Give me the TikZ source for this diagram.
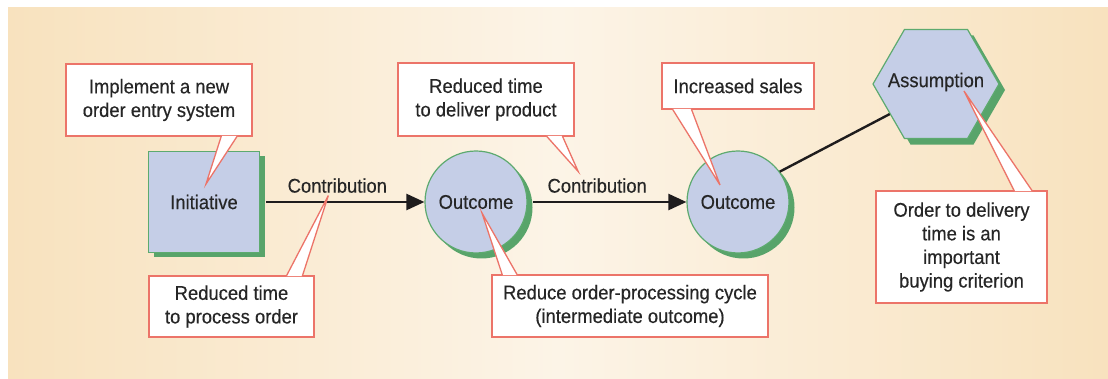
\documentclass[tikz,border=0pt]{standalone}
\usepackage{fontspec}
\setmainfont[FakeStretch=0.93,FakeBold=0.35]{Liberation Sans}
\usetikzlibrary{arrows.meta,shapes.geometric,shadows}
\definecolor{paneledge}{HTML}{F8E2BE}
\definecolor{panelmid}{HTML}{FCF4E7}
\definecolor{shapeblue}{HTML}{C5CEE7}
\definecolor{edgegreen}{HTML}{5DAA6F}
\definecolor{shadowgreen}{HTML}{58A46A}
\definecolor{notered}{HTML}{EC7469}
\definecolor{inkgray}{HTML}{262626}
\definecolor{inkblack}{HTML}{1E1C1D}

\begin{document}
\begin{tikzpicture}[x=1pt,y=-1pt]%
  \tikzstyle{every node}=[font=\fontsize{19.8}{23.6}\selectfont,text=inkgray]
  \tikzstyle{squaren}=[rectangle,draw=edgegreen,fill=shapeblue,line width=1.2pt,inner sep=0,
    minimum width=111pt,minimum height=101pt,
    drop shadow={shadow xshift=5pt,shadow yshift=-5pt,fill=shadowgreen,opacity=1}]
  \tikzstyle{roundn}=[circle,draw=edgegreen,fill=shapeblue,line width=1.2pt,inner sep=0,
    minimum size=102pt,
    drop shadow={shadow xshift=5.5pt,shadow yshift=-5.5pt,fill=shadowgreen,opacity=1}]
  \tikzstyle{hexn}=[regular polygon,regular polygon sides=6,draw=edgegreen,fill=shapeblue,
    line width=1.2pt,inner sep=0,minimum size=126pt,
    drop shadow={shadow xshift=6pt,shadow yshift=-6pt,fill=shadowgreen,opacity=1}]
  \tikzstyle{noten}=[rectangle,draw=notered,fill=white,line width=1.3pt,inner sep=0,align=center]
  \tikzstyle{notetip}=[draw=notered,fill=white,line width=1.3pt]
  \tikzstyle{flow}=[draw=inkblack,line width=2.4pt,-{Triangle[length=18pt,width=16pt]}]
  \tikzstyle{link}=[draw=inkblack,line width=2.4pt]
  \tikzstyle{labn}=[above,inner sep=8pt]
  \useasboundingbox (0,0) rectangle (1108,379);
  % panel
  \shade[left color=paneledge,right color=paneledge,middle color=panelmid] (8,8) rectangle (1108,378);
  % shapes
  \node(init)[squaren] at (204,202) {Initiative};
  \node(out1)[roundn] at (476,202) {Outcome};
  \node(out2)[roundn] at (738,202) {Outcome};
  \node(hex)[hexn,label={[yshift=2pt]center:Assumption}] at (936,84) {};
  % connectors
  \draw[flow] ([xshift=6pt]init.east) -- node(c1)[labn,pos=.45]{Contribution} (out1);
  \draw[flow] ([xshift=5pt]out1.east) -- node(c2)[labn,pos=.42]{Contribution} (out2);
  \draw[link] (out2.36) -- (hex.213);
  % callouts
  \node(imp)[noten,minimum width=186pt,minimum height=72pt] at (159,100) {Implement a new\\order entry system};
  \draw[notetip] ([xshift=156pt,yshift=.7pt]imp.south west) -- ([xshift=2pt,yshift=18pt]init.center)
    -- ([xshift=172pt,yshift=.7pt]imp.south west);
  \node(rtp)[noten,minimum width=165pt,minimum height=61pt] at (231.5,306.5) {Reduced time\\to process order};
  \draw[notetip] ([xshift=138pt,yshift=-.7pt]rtp.north west) -- ([xshift=-9pt,yshift=-10pt]c1.center)
    -- ([xshift=154pt,yshift=-.7pt]rtp.north west);
  \node(rtd)[noten,minimum width=176pt,minimum height=73pt] at (486,99.5) {Reduced time\\to deliver product};
  \draw[notetip] ([xshift=149pt,yshift=.7pt]rtd.south west) -- ([xshift=-19pt,yshift=14pt]c2.center)
    -- ([xshift=165pt,yshift=.7pt]rtd.south west);
  \node(inc)[noten,minimum width=152pt,minimum height=46pt] at (738,86) {Increased sales};
  \draw[notetip] ([xshift=11pt,yshift=.7pt]inc.south west) -- ([xshift=-18pt,yshift=17pt]out2.center)
    -- ([xshift=30pt,yshift=.7pt]inc.south west);
  \node(roc)[noten,minimum width=276pt,minimum height=62pt] at (630,306) {Reduce order-processing cycle\\(intermediate outcome)};
  \draw[notetip] ([xshift=11pt,yshift=-.7pt]roc.north west) -- ([xshift=6pt,yshift=-11pt]out1.center)
    -- ([xshift=26pt,yshift=-.7pt]roc.north west);
  \node(otd)[noten,minimum width=171pt,minimum height=112pt] at (961.5,247) {Order to delivery\\time is an\\important\\buying criterion};
  \draw[notetip] ([xshift=139pt,yshift=-.7pt]otd.north west) -- ([xshift=28pt,yshift=-7pt]hex.center)
    -- ([xshift=157pt,yshift=-.7pt]otd.north west);
\end{tikzpicture}
\end{document}
